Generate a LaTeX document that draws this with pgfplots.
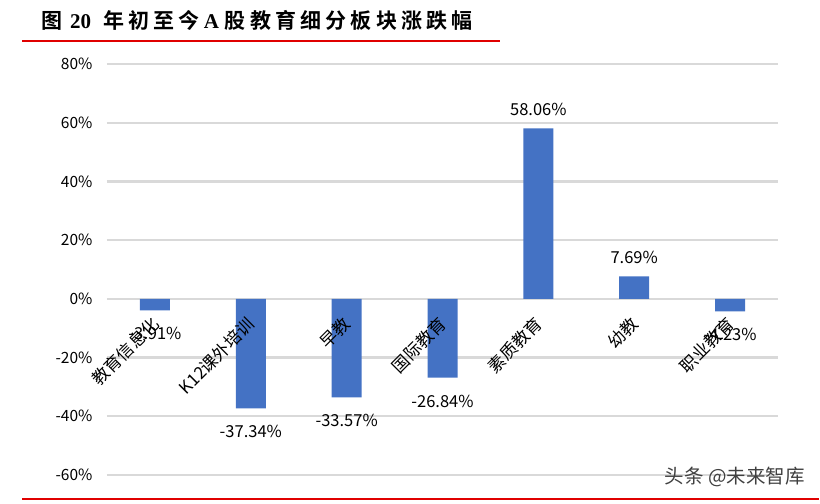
\documentclass[border=0pt]{standalone}
\usepackage{fontspec}
\setmainfont{Noto Sans CJK SC}
\newfontfamily\titlecjk[LetterSpace=20]{Noto Sans CJK SC Bold}
\newfontfamily\titleserif{Liberation Serif}
\usepackage{pgfplots}
\pgfplotsset{compat=1.18}
\definecolor{barBlue}{HTML}{4472C4}
\definecolor{gridGrey}{HTML}{D9D9D9}
\definecolor{ruleRed}{HTML}{E00000}
\pgfplotsset{
  frame/.style={
    at={(107bp,29bp)}, anchor=south west,
    scale only axis,
    width=671bp, height=411bp,
    xmin=-0.5, xmax=6.5,
    ymin=-60, ymax=80,
    ytick={-60,-40,...,80},
    xtick={0,...,6},
    axis y line=left,
    axis x line*=middle,
    x axis line style={draw=none},
    y axis line style={draw=none},
    major tick length=0pt,
  },
}

\begin{document}
\begin{tikzpicture}
\path (0,0) rectangle (820bp,504bp);

% title and rules
\node[anchor=base west, inner sep=0] at (41bp,475bp)
  {\fontsize{21bp}{24bp}\selectfont\titlecjk 图\hspace{8bp}{\titleserif\bfseries 20}\hspace{12bp}年初至今\hspace{4bp}{\titleserif\bfseries A}\hspace{6bp}股教育细分板块涨跌幅};
\draw[ruleRed, line width=2bp] (22bp,463bp) -- (500bp,463bp);
\draw[ruleRed, line width=1.5bp] (22bp,5bp) -- (819bp,5bp);

% bars, grid and y labels
\begin{axis}[
    frame,
    xticklabels={},
    ymajorgrids,
    grid style={gridGrey, line width=2.2bp},
    /pgf/number format/assume math mode=true,
    yticklabel={\pgfmathprintnumber{\tick}\%},
    yticklabel style={font=\fontsize{15.5bp}{18bp}\selectfont, xshift=-11bp},
    ybar, bar width=30bp,
    visualization depends on={y \as \rawy},
    nodes near coords={\pgfmathprintnumber[fixed, fixed zerofill, precision=2]{\pgfplotspointmeta}\%},
    nodes near coords align={vertical},
    every node near coord/.append style={font=\fontsize{16.5bp}{19bp}\selectfont, text=black, inner ysep=12bp, yshift={(\rawy<0)*(-5)}},
]
\addplot[fill=barBlue, draw=none] coordinates {
(0,-3.91) (1,-37.34) (2,-33.57) (3,-26.84) (4,58.06) (5,7.69) (6,-4.23)
};
\end{axis}

% category labels over the bars
\begin{axis}[
    frame,
    yticklabels={},
    xticklabels={教育信息化, K12课外培训, 早教, 国际教育, 素质教育, 幼教, 职业教育},
    xticklabel style={font=\fontsize{17bp}{20bp}\selectfont, xshift=3bp, yshift=-20bp, rotate=45, anchor=east},
]
\end{axis}

\node[anchor=east, text=black!75, inner sep=0] at (805bp,27bp)
  {\fontsize{19.5bp}{22bp}\selectfont 头条 @未来智库};
\end{tikzpicture}
\end{document}
